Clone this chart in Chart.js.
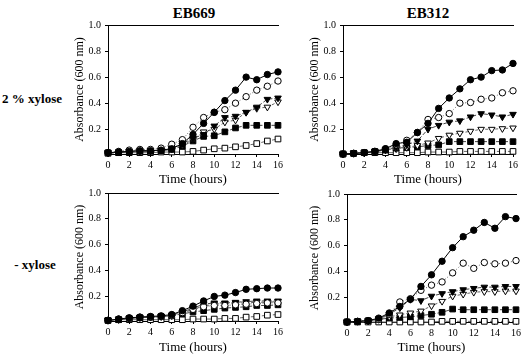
<!DOCTYPE html>
<html>
<head>
<meta charset="utf-8">
<script src="https://cdn.jsdelivr.net/npm/chart.js@4.4.0/dist/chart.umd.min.js"></script>
<style>
  body { margin: 0; background: #fff; width: 528px; height: 355px; position: relative; overflow: hidden; font-family: "Liberation Serif", serif; }
  canvas { position: absolute; }
  .lbl { position: absolute; font-weight: bold; white-space: nowrap; transform: translate(-50%, -50%); color: #000; }
</style>
</head>
<body>
<div class="lbl" style="left:194px;top:13px;font-size:15px">EB669</div>
<div class="lbl" style="left:428px;top:13px;font-size:15px">EB312</div>
<div class="lbl" style="left:32px;top:99px;font-size:13px">2 % xylose</div>
<div class="lbl" style="left:35px;top:265px;font-size:13px">- xylose</div>

<canvas id="c1" width="225" height="173" style="left:60px;top:15px"></canvas>
<canvas id="c2" width="225" height="173" style="left:295px;top:15px"></canvas>
<canvas id="c3" width="225" height="172" style="left:60px;top:183px"></canvas>
<canvas id="c4" width="224" height="171" style="left:299px;top:184px"></canvas>

<script>
"use strict";
const hours = [0, 1, 2, 3, 4, 5, 6, 7, 8, 9, 10, 11, 12, 13, 14, 15, 16];
const xTicks = [0, 2, 4, 6, 8, 10, 12, 14, 16];
const yTicks = [0.2, 0.4, 0.6, 0.8, 1.0];

// EB669, 2 % xylose
const fc1 = [0.02, 0.025, 0.03, 0.035, 0.035, 0.04, 0.05, 0.09, 0.16, 0.245, 0.33, 0.42, 0.50, 0.60, 0.58, 0.62, 0.64];
const oc1 = [0.02, 0.03, 0.04, 0.045, 0.045, 0.055, 0.085, 0.12, 0.215, 0.29, 0.33, 0.35, 0.40, 0.45, 0.50, 0.53, 0.57];
const ft1 = [0.02, 0.025, 0.03, 0.035, 0.035, 0.04, 0.055, 0.09, 0.13, 0.16, 0.225, 0.29, 0.30, 0.33, 0.37, 0.43, 0.44];
const ot1 = [0.02, 0.025, 0.03, 0.035, 0.035, 0.04, 0.05, 0.08, 0.12, 0.18, 0.20, 0.255, 0.27, 0.33, 0.36, 0.37, 0.41];
const fs1 = [0.02, 0.02, 0.025, 0.03, 0.03, 0.035, 0.045, 0.07, 0.11, 0.145, 0.15, 0.18, 0.21, 0.23, 0.23, 0.23, 0.23];
const os1 = [0.015, 0.02, 0.02, 0.02, 0.02, 0.025, 0.025, 0.025, 0.03, 0.04, 0.05, 0.055, 0.065, 0.075, 0.09, 0.11, 0.125];

// EB312, 2 % xylose
const fc2 = [0.01, 0.015, 0.02, 0.03, 0.05, 0.09, 0.10, 0.175, 0.245, 0.36, 0.44, 0.51, 0.58, 0.60, 0.65, 0.655, 0.705];
const oc2 = [0.01, 0.015, 0.02, 0.03, 0.05, 0.08, 0.115, 0.175, 0.275, 0.29, 0.32, 0.40, 0.405, 0.43, 0.44, 0.48, 0.495];
const ft2 = [0.01, 0.015, 0.02, 0.03, 0.045, 0.06, 0.08, 0.11, 0.20, 0.23, 0.255, 0.265, 0.295, 0.32, 0.31, 0.295, 0.315];
const ot2 = [0.01, 0.015, 0.02, 0.03, 0.04, 0.05, 0.06, 0.075, 0.095, 0.13, 0.155, 0.17, 0.185, 0.20, 0.20, 0.205, 0.21];
const fs2 = [0.01, 0.015, 0.02, 0.03, 0.04, 0.055, 0.06, 0.065, 0.075, 0.08, 0.105, 0.105, 0.105, 0.105, 0.105, 0.105, 0.105];
const os2 = [0.01, 0.015, 0.02, 0.02, 0.02, 0.02, 0.02, 0.02, 0.025, 0.025, 0.025, 0.03, 0.03, 0.03, 0.03, 0.03, 0.03];

// EB669, - xylose
const fc3 = [0.015, 0.025, 0.035, 0.04, 0.045, 0.05, 0.06, 0.09, 0.125, 0.165, 0.20, 0.21, 0.23, 0.255, 0.26, 0.265, 0.265];
const oc3 = [0.015, 0.025, 0.03, 0.04, 0.04, 0.045, 0.055, 0.075, 0.10, 0.12, 0.13, 0.13, 0.135, 0.14, 0.145, 0.15, 0.15];
const ft3 = [0.015, 0.025, 0.03, 0.04, 0.04, 0.045, 0.055, 0.08, 0.11, 0.14, 0.15, 0.15, 0.155, 0.16, 0.165, 0.165, 0.165];
const ot3 = [0.015, 0.02, 0.03, 0.035, 0.04, 0.045, 0.05, 0.07, 0.10, 0.125, 0.14, 0.145, 0.15, 0.15, 0.155, 0.155, 0.16];
const fs3 = [0.015, 0.02, 0.03, 0.035, 0.04, 0.045, 0.05, 0.065, 0.08, 0.09, 0.10, 0.11, 0.115, 0.12, 0.13, 0.13, 0.135];
const os3 = [0.015, 0.02, 0.02, 0.02, 0.02, 0.02, 0.02, 0.02, 0.025, 0.025, 0.025, 0.03, 0.03, 0.04, 0.045, 0.055, 0.06];

// EB312, - xylose
const fc4 = [0.01, 0.015, 0.02, 0.04, 0.08, 0.13, 0.185, 0.285, 0.375, 0.48, 0.585, 0.67, 0.72, 0.78, 0.735, 0.825, 0.81];
const oc4 = [0.01, 0.015, 0.02, 0.03, 0.07, 0.165, 0.19, 0.255, 0.295, 0.32, 0.39, 0.465, 0.425, 0.47, 0.46, 0.465, 0.485];
const ft4 = [0.01, 0.015, 0.02, 0.035, 0.07, 0.12, 0.185, 0.175, 0.21, 0.23, 0.245, 0.26, 0.27, 0.28, 0.28, 0.285, 0.285];
const ot4 = [0.01, 0.015, 0.02, 0.03, 0.05, 0.065, 0.08, 0.095, 0.135, 0.17, 0.21, 0.225, 0.24, 0.245, 0.245, 0.25, 0.25];
const fs4 = [0.01, 0.015, 0.02, 0.03, 0.04, 0.045, 0.05, 0.06, 0.07, 0.085, 0.11, 0.105, 0.105, 0.105, 0.105, 0.105, 0.105];
const os4 = [0.01, 0.01, 0.01, 0.01, 0.01, 0.01, 0.01, 0.01, 0.01, 0.015, 0.015, 0.015, 0.015, 0.015, 0.015, 0.015, 0.015];

// marker + line style per series, same order as the arrays
const seriesStyle = [
  { pointStyle: "circle", pointRadius: 3.2, pointBackgroundColor: "#000", borderColor: "#000", borderDash: [] },
  { pointStyle: "circle", pointRadius: 3.2, pointBackgroundColor: "#fff", borderColor: "#666", borderDash: [1, 2] },
  { pointStyle: "triangle", pointRotation: 180, pointRadius: 3.8, pointBackgroundColor: "#000", borderColor: "#444", borderDash: [4, 2] },
  { pointStyle: "triangle", pointRotation: 180, pointRadius: 3.8, pointBackgroundColor: "#fff", borderColor: "#666", borderDash: [3, 2] },
  { pointStyle: "rect", pointRadius: 4, pointBackgroundColor: "#000", borderColor: "#444", borderDash: [5, 2] },
  { pointStyle: "rect", pointRadius: 4, pointBackgroundColor: "#fff", borderColor: "#666", borderDash: [6, 2, 1, 2] },
];

const tickFont = { family: "Liberation Serif", size: 10 };
const xTitleFont = { family: "Liberation Serif", size: 13 };
const yTitleFont = { family: "Liberation Serif", size: 12 };

function makePanel(id, sets, xh, xpad, ypad) {
  new Chart(document.getElementById(id), {
    type: "line",
    data: {
      datasets: sets.map((vals, i) => ({
        ...seriesStyle[i],
        data: hours.map((h, j) => ({ x: h, y: vals[j] })),
        borderWidth: 1,
        pointBorderColor: "#000",
        pointBorderWidth: 1,
        clip: false,
      })),
    },
    options: {
      responsive: false,
      animation: false,
      layout: { padding: { top: 10, right: 6, left: 0, bottom: 0 } },
      plugins: { legend: { display: false }, tooltip: { enabled: false } },
      scales: {
        x: {
          type: "linear", min: 0, max: 16,
          afterBuildTicks: (s) => { s.ticks = xTicks.map((v) => ({ value: v })); },
          afterFit: (s) => { s.height = xh; },
          grid: { drawOnChartArea: false, tickLength: 3, color: "#000" },
          border: { color: "#000" },
          ticks: { font: tickFont, color: "#000", padding: 2, maxRotation: 0 },
          title: { display: true, text: "Time (hours)", font: xTitleFont, color: "#000", padding: { top: 0, bottom: xpad } },
        },
        top: {
          axis: "x", position: "top", type: "linear", min: 0, max: 16,
          grid: { display: false }, ticks: { display: false },
          border: { color: "#000" },
          afterFit: (s) => { s.height = 0; },
        },
        y: {
          min: 0.01, max: 1,
          afterBuildTicks: (s) => { s.ticks = yTicks.map((v) => ({ value: v })); },
          afterFit: (s) => { s.width = 48; },
          grid: { drawOnChartArea: false, tickLength: 3, color: "#000" },
          border: { color: "#000" },
          ticks: { font: tickFont, color: "#000", padding: 4, callback: (v) => v.toFixed(1) },
          title: { display: true, text: "Absorbance (600 nm)", font: yTitleFont, color: "#000", padding: { top: ypad, bottom: 0 } },
        },
      },
    },
  });
}

makePanel("c1", [fc1, oc1, ft1, ot1, fs1, os1], 34, 1, 13);
makePanel("c2", [fc2, oc2, ft2, ot2, fs2, os2], 34, 1, 13);
makePanel("c3", [fc3, oc3, ft3, ot3, fs3, os3], 34, 0, 13);
makePanel("c4", [fc4, oc4, ft4, ot4, fs4, os4], 33, 0, 9);
</script>
</body>
</html>
